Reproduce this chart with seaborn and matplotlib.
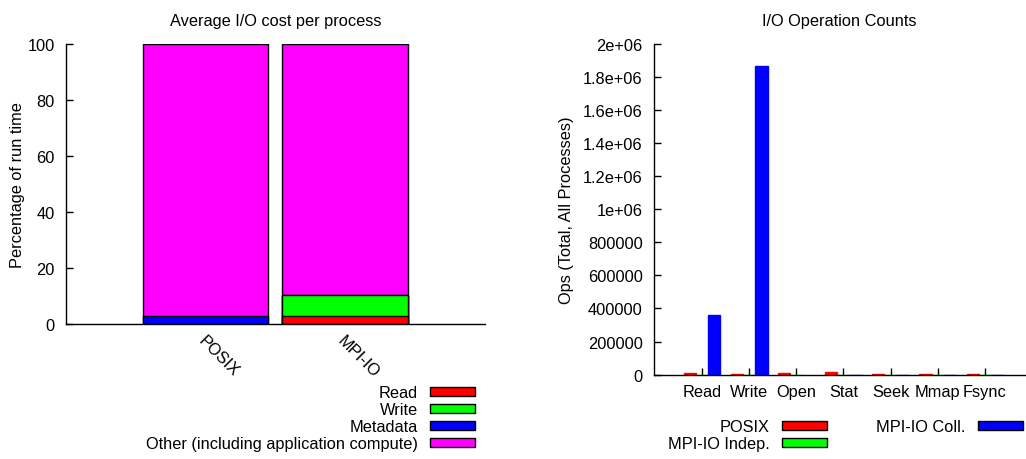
import numpy as np
import pandas as pd
import matplotlib
matplotlib.use("Agg")
import matplotlib.pyplot as plt
from matplotlib.patches import Patch
from matplotlib.ticker import FixedLocator, FixedFormatter
import seaborn as sns

# left panel: average I/O cost per process, % of run time
INTERFACES = ["POSIX", "MPI-IO"]
READ_PCT = [0.0, 2.7]
WRITE_PCT = [0.0, 7.7]
META_PCT = [3.0, 0.0]
OTHER_PCT = [97.0, 89.6]
COST_LABELS = ["Read", "Write", "Metadata", "Other (including application compute)"]
PCT_TICKS = [0, 20, 40, 60, 80, 100]

# right panel: I/O operation counts (total, all processes)
OPERATIONS = ["Read", "Write", "Open", "Stat", "Seek", "Mmap", "Fsync"]
POSIX_OPS = [8000, 2000, 12000, 18000, 1500, 600, 600]
INDEP_OPS = [0, 0, 0, 0, 0, 0, 0]
COLL_OPS = [360000, 1867000, np.nan, 0, 0, 0, 0]
OPS_SERIES = ["POSIX", "MPI-IO Indep.", "MPI-IO Coll."]
OPS_TICKS = [0, 200000, 400000, 600000, 800000, 1000000,
             1200000, 1400000, 1600000, 1800000, 2000000]
OPS_TICK_LABELS = ["0", "200000", "400000", "600000", "800000", "1e+06",
                   "1.2e+06", "1.4e+06", "1.6e+06", "1.8e+06", "2e+06"]

RED, GREEN, BLUE, MAGENTA = "#ff0000", "#00ff00", "#0000ff", "#ff00ff"
FS = 11.8

sns.set_theme(style="white")
plt.rcParams["font.family"] = ["Liberation Sans", "DejaVu Sans"]
plt.rcParams["font.size"] = FS
for key in ("text.color", "axes.labelcolor", "xtick.color", "ytick.color", "axes.edgecolor"):
    plt.rcParams[key] = "black"

fig = plt.figure(figsize=(10.26, 4.6), dpi=100)
ax1 = fig.add_axes([0.0643, 0.2935, 0.4084, 0.6087])
ax2 = fig.add_axes([0.6374, 0.1835, 0.3616, 0.7187])

# ---- stacked percentages (drawn as overlapping cumulative bars)
cost = pd.DataFrame({"interface": INTERFACES, "Read": READ_PCT, "Write": WRITE_PCT,
                     "Metadata": META_PCT, "Other": OTHER_PCT})
layers = ["Read", "Write", "Metadata", "Other"]
layer_colors = [RED, GREEN, BLUE, MAGENTA]
cum = cost[layers].cumsum(axis=1)
cum["interface"] = cost["interface"]
for layer, col in reversed(list(zip(layers, layer_colors))):
    sns.barplot(data=cum, x="interface", y=layer, color=col, saturation=1,
                width=0.9, errorbar=None, edgecolor="black", linewidth=1, ax=ax1)

ax1.set_xlim(-1, 2)
ax1.set_ylim(0, 100)
ax1.yaxis.set_major_locator(FixedLocator(PCT_TICKS))
ax1.set_title("Average I/O cost per process", fontsize=FS, pad=14)
ax1.set_ylabel("Percentage of run time", fontsize=FS)
ax1.yaxis.set_label_coords(-0.098, 0.5)
ax1.set_xlabel("")
ax1.tick_params(axis="x", length=0, pad=6, labelsize=FS)
ax1.tick_params(axis="y", direction="in", length=5, width=1, pad=8, labelsize=FS, left=True)
for lab in ax1.get_xticklabels():
    lab.set_rotation(-45)
    lab.set_ha("left")
    lab.set_va("top")
    lab.set_rotation_mode("anchor")

# ---- grouped operation counts
ops = pd.DataFrame({
    "op": OPERATIONS * 3,
    "interface": [OPS_SERIES[0]] * 7 + [OPS_SERIES[1]] * 7 + [OPS_SERIES[2]] * 7,
    "count": POSIX_OPS + INDEP_OPS + COLL_OPS,
})
sns.barplot(data=ops, x="op", y="count", hue="interface", hue_order=OPS_SERIES,
            palette=[RED, GREEN, BLUE], saturation=1, width=0.78, errorbar=None,
            legend=False, ax=ax2)
for p in ax2.patches:
    p.set_edgecolor(p.get_facecolor())
    p.set_linewidth(1)

ax2.set_xlim(-1.02, 6.85)
ax2.set_ylim(0, 2000000)
ax2.yaxis.set_major_locator(FixedLocator(OPS_TICKS))
ax2.yaxis.set_major_formatter(FixedFormatter(OPS_TICK_LABELS))
ax2.set_title("I/O Operation Counts", fontsize=FS, pad=14)
ax2.set_ylabel("Ops (Total, All Processes)", fontsize=FS)
ax2.yaxis.set_label_coords(-0.2156, 0.5)
ax2.set_xlabel("")
ax2.tick_params(axis="x", direction="in", length=5, width=1, pad=7, labelsize=FS, bottom=True)
ax2.tick_params(axis="y", direction="in", length=5, width=1, pad=8, labelsize=FS, left=True)

for ax in (ax1, ax2):
    for side in ("top", "right"):
        ax.spines[side].set_visible(False)
    for side in ("left", "bottom"):
        ax.spines[side].set_color("black")
        ax.spines[side].set_linewidth(1)

# ---- legends
h1 = [Patch(facecolor=c, edgecolor="black", linewidth=1) for c in layer_colors]
fig.legend(h1, COST_LABELS, loc="lower right", bbox_to_anchor=(475 / 1026, 1 - 452 / 460),
           markerfirst=False, frameon=False, handlelength=2.75, handleheight=0.5,
           handletextpad=0.75, labelspacing=0.12, borderpad=0, borderaxespad=0, fontsize=FS)

h2 = [Patch(facecolor=c, edgecolor="black", linewidth=1) for c in (RED, GREEN, BLUE)]
fig.legend(h2, OPS_SERIES, loc="lower right", bbox_to_anchor=(1023 / 1026, 1 - 452 / 460),
           ncol=2, markerfirst=False, frameon=False, handlelength=2.75, handleheight=0.5,
           handletextpad=0.75, labelspacing=0.12, columnspacing=3.0, borderpad=0,
           borderaxespad=0, fontsize=FS)

fig.savefig("out.png", dpi=100)
